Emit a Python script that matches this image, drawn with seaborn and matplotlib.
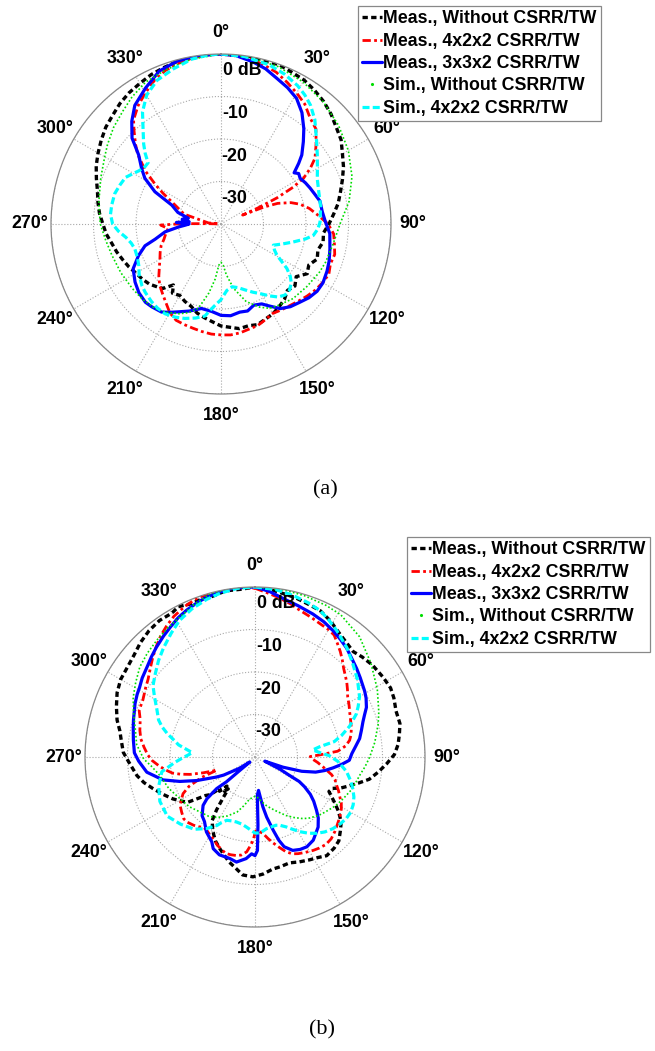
import numpy as np
import matplotlib
matplotlib.use("Agg")
import matplotlib.pyplot as plt
from matplotlib.lines import Line2D
import seaborn as sns

# radiation patterns, (angle in degrees clockwise from 0, level in dB)
# plot (a)
a_meas_wo = [(0, 0.0), (5, -0.2), (10, 0.0), (15, -0.3), (20, -0.1), (25, -0.6), (30, -0.9), (35, -1.6),
             (40, -2.4), (45, -3.4), (50, -4.6), (55, -5.5), (60, -7.0), (65, -8.2), (70, -9.6), (75, -10.9),
             (80, -12.0), (85, -13.4), (90, -14.6), (95, -15.8), (100, -15.6), (105, -16.4), (110, -15.9),
             (115, -17.2), (120, -16.6), (125, -18.4), (130, -17.3), (135, -17.9), (140, -16.8), (145, -16.2),
             (150, -15.6), (155, -15.3), (160, -14.8), (165, -15.2), (170, -15.0), (175, -15.6), (180, -16.0),
             (185, -16.9), (190, -17.6), (195, -18.3), (200, -19.4), (205, -19.9), (210, -20.6), (215, -20.1),
             (218, -21.8), (222, -19.6), (225, -19.0), (230, -18.0), (235, -17.4), (240, -16.9), (245, -16.1),
             (250, -15.4), (255, -14.6), (260, -13.9), (265, -12.9), (270, -12.2), (275, -11.3), (280, -10.6),
             (285, -9.9), (290, -8.8), (295, -7.6), (300, -6.6), (305, -5.6), (310, -4.6), (315, -3.9),
             (320, -3.0), (325, -2.3), (330, -1.8), (335, -1.2), (340, -0.8), (345, -0.4), (350, -0.2),
             (355, 0.0), (360, 0.0)]
a_meas_422 = [(0, 0.0), (5, -0.3), (10, -0.6), (15, -1.2), (20, -2.0), (25, -3.2), (30, -4.4), (35, -5.6),
              (40, -7.4), (45, -8.4), (50, -10.8), (55, -13.0), (58, -15.2), (61, -17.8), (63, -21.0),
              (65, -25.5), (66.5, -30.5), (67.5, -34.5), (68.5, -29.0), (70, -25.8), (73, -22.8), (76, -20.8),
              (80, -18.9), (85, -17.0), (90, -14.8), (95, -13.4), (100, -12.9), (105, -12.3), (110, -12.6),
              (115, -12.0), (120, -12.4), (125, -12.9), (130, -13.6), (135, -14.3), (140, -14.9), (145, -15.3),
              (150, -15.7), (155, -15.2), (160, -14.6), (165, -14.4), (170, -14.0), (175, -13.8), (180, -13.9),
              (185, -14.0), (190, -14.3), (195, -14.6), (200, -14.8), (205, -15.0), (210, -15.9), (215, -17.4),
              (220, -18.6), (225, -19.6), (230, -20.9), (235, -22.3), (240, -23.4), (245, -24.2), (250, -25.0),
              (255, -26.1), (260, -26.8), (265, -27.5), (269, -25.8), (270.5, -31.0), (271.5, -37.0),
              (272.5, -39.5), (275, -37.0), (285, -31.0), (292, -28.5), (298, -24.5), (301, -22.0),
              (305, -18.3), (310, -14.4), (313, -12.5), (317, -10.0), (320, -8.0), (325, -6.0), (330, -4.4),
              (335, -2.8), (340, -1.6), (345, -0.9), (350, -0.4), (355, -0.1), (360, 0.0)]
a_meas_332 = [(0, 0.0), (5, -0.2), (11, -1.1), (16, -2.0), (21, -3.3), (26, -4.3), (31, -5.5), (36, -7.6),
              (41, -10.3), (45, -12.6), (49.5, -15.0), (52, -16.8), (55, -19.0), (57, -18.2), (60, -18.5),
              (64, -17.9), (68, -17.4), (72, -16.9), (77, -16.1), (83, -16.0), (89, -15.4), (95, -14.3),
              (103, -13.7), (109, -13.1), (114, -12.7), (120, -12.3), (125, -12.4), (130, -13.0), (135, -13.9),
              (140, -14.6), (145, -15.7), (150, -17.8), (153, -18.9), (158, -19.4), (163, -18.6), (168, -18.8),
              (174, -18.3), (180, -18.5), (186, -19.3), (193, -19.6), (200, -18.2), (206, -17.0), (210, -16.0),
              (214, -15.0), (220, -14.6), (224, -14.4), (230, -14.8), (236, -15.6), (243, -16.8), (249, -19.2),
              (254, -21.4), (257, -24.1), (262, -26.7), (266, -30.0), (268, -31.5), (270, -32.5), (272, -29.5),
              (274, -32.5), (277, -30.8), (280, -32.2), (285, -29.5), (291, -27.6), (296, -22.7), (301, -19.1),
              (305, -17.2), (310, -14.7), (314, -10.9), (319, -8.0), (324, -5.5), (331, -3.4), (338, -1.2),
              (345, -0.3), (352, 0.0), (360, 0.0)]
a_sim_wo = [(0, 0.0), (10, -0.2), (20, -0.6), (30, -1.4), (40, -2.5), (50, -3.9), (60, -5.4), (70, -7.2),
            (80, -9.4), (90, -12.0), (100, -13.2), (110, -13.8), (116, -14.2), (126, -15.0), (136, -15.6),
            (145, -16.6), (150, -17.1), (155, -18.4), (162, -20.8), (169, -24.6), (174, -28.0), (177, -30.3),
            (180, -31.0), (183, -30.3), (186, -27.0), (190, -23.5), (195, -19.5), (200, -17.8), (205, -16.7),
            (212, -15.5), (218, -14.8), (226, -14.4), (234, -14.2), (244, -13.8), (254, -13.3), (262, -12.6),
            (270, -11.6), (280, -10.8), (291, -9.7), (300, -8.4), (305, -7.4), (312, -6.0), (319, -4.8),
            (325, -3.5), (332, -2.2), (340, -1.5), (344, -1.2), (350, -0.6), (360, 0.0)]
a_sim_422 = [(0, 0.0), (8, -0.2), (17, -0.9), (23, -1.7), (29, -2.8), (33, -3.8), (37, -5.0), (42, -7.0),
             (48, -9.8), (54, -12.0), (60, -13.8), (65, -15.0), (72, -15.8), (80, -16.2), (89, -16.7),
             (93, -17.2), (97, -18.1), (100, -19.8), (104, -22.5), (108, -24.8), (112, -26.7), (116, -26.0),
             (119, -25.0), (122, -23.0), (124, -21.3), (127, -19.6), (130, -18.4), (134, -17.6), (138, -17.5),
             (142, -18.2), (146, -19.6), (150, -21.0), (155, -22.3), (160, -23.5), (165, -24.5), (170, -25.0),
             (175, -24.3), (180, -22.2), (185, -20.5), (190, -18.0), (195, -17.1), (201, -16.2), (206, -15.6),
             (212, -15.1), (217, -15.2), (222, -15.5), (228, -16.0), (232, -16.4), (238, -17.3), (243, -18.3),
             (248, -18.8), (254, -18.9), (258, -18.4), (262, -17.4), (266, -15.8), (270, -14.5), (275, -13.9),
             (280, -13.9), (286, -14.0), (291, -14.5), (296, -15.0), (300, -16.2), (303, -17.0), (307, -17.6),
             (310, -17.6), (313, -15.6), (316, -13.8), (320, -11.5), (325, -7.8), (330, -5.0), (336, -3.0),
             (343, -1.8), (350, -0.6), (356, -0.1), (360, 0.0)]

# plot (b)
b_meas_wo = [(0, 0.0), (5, -0.4), (10, -1.0), (14, -1.3), (19, -1.9), (24, -2.3), (29, -3.4), (34, -4.7),
             (39, -5.6), (43, -6.1), (47, -5.5), (52, -4.9), (58, -4.5), (63, -4.2), (67, -4.5), (72, -5.1),
             (77, -5.0), (81, -5.6), (85, -6.2), (89, -7.2), (93, -9.0), (97, -10.8), (101, -12.6), (104, -14.8),
             (107, -16.8), (110, -18.6), (112, -20.3), (115, -20.8), (117, -19.9), (120, -18.3), (123, -16.6),
             (127, -14.6), (131, -13.4), (135, -12.1), (139, -11.6), (144, -11.3), (148, -12.1), (152, -12.6),
             (157, -13.2), (162, -13.8), (167, -13.5), (171, -13.3), (176, -12.4), (181, -11.8), (186, -12.1),
             (190, -13.5), (194, -14.6), (198, -16.0), (201, -16.9), (205, -18.1), (208, -19.3), (211, -20.6),
             (214, -22.0), (216, -24.6), (218, -27.8), (220, -30.2), (222, -29.2), (224, -30.5), (226, -28.4),
             (228, -28.9), (230, -26.2), (232, -25.3), (234, -23.4), (236, -21.0), (239, -19.8), (243, -18.3),
             (248, -16.6), (253, -14.8), (257, -13.2), (261, -11.9), (265, -11.0), (268, -10.2), (272, -9.0),
             (277, -8.3), (281, -7.6), (285, -6.4), (290, -5.3), (295, -4.2), (300, -3.5), (305, -3.3),
             (310, -2.8), (315, -1.9), (320, -1.2), (325, -0.8), (330, -0.9), (333, -0.3), (337, -0.9),
             (341, -0.8), (345, -0.9), (350, -0.3), (355, -0.4), (360, 0.0)]
b_meas_422 = [(0, -0.3), (4, -1.2), (8, -2.0), (13, -3.0), (17, -3.9), (22, -4.6), (26, -5.1), (30, -5.4),
              (33, -5.8), (36, -7.0), (39, -8.1), (42, -9.3), (45, -10.5), (48, -11.4), (51, -12.2), (54, -13.1),
              (57, -14.0), (61, -14.7), (65, -15.4), (69, -15.9), (73, -16.3), (77, -16.8), (80, -17.4),
              (83, -18.5), (86, -20.5), (88, -24.5), (89.5, -27.0), (92, -26.5), (95, -25.2), (99, -23.5),
              (103, -21.5), (106, -20.4), (109, -19.7), (112, -18.8), (115, -18.0), (118, -17.0), (121, -16.3),
              (125, -15.6), (129, -15.0), (133, -14.3), (137, -13.7), (141, -13.5), (145, -13.8), (148, -14.1),
              (152, -14.6), (156, -15.1), (159, -15.6), (162, -16.6), (165, -18.0), (168, -19.3), (171, -20.6),
              (174, -21.9), (177, -22.5), (179.5, -22.6), (181, -20.8), (182.5, -19.4), (185, -17.6),
              (188, -16.7), (191, -16.4), (194, -16.3), (197, -16.3), (200, -16.9), (203, -17.4), (206, -18.2),
              (210, -18.8), (213, -19.3), (216, -19.5), (219, -18.9), (222, -18.4), (226, -17.9), (229, -17.8),
              (233, -18.4), (237, -19.0), (240, -20.0), (243, -21.0), (246, -23.0), (249, -26.5), (251, -30.5),
              (253, -27.3), (255, -24.2), (257, -22.0), (259, -20.2), (262, -18.6), (265, -17.2), (268, -15.8),
              (271, -14.8), (275, -13.8), (279, -12.8), (283, -12.2), (288, -11.6), (292, -10.6), (297, -10.4),
              (302, -9.6), (306, -8.9), (310, -7.8), (314, -6.5), (318, -5.2), (322, -3.9), (326, -2.8),
              (330, -1.8), (335, -0.9), (340, -0.2), (345, 0.0), (350, 0.0), (355, 0.0), (360, -0.3)]
b_meas_332 = [(0, 0.0), (5, -0.9), (11, -2.3), (16, -3.0), (22, -3.7), (27, -4.3), (32, -5.1), (36, -5.8),
              (40, -6.5), (45, -7.6), (49, -8.3), (53, -9.0), (56, -9.5), (59, -9.9), (62, -10.4), (66, -11.3),
              (69, -12.4), (72, -13.3), (76, -14.2), (80, -15.0), (84, -16.2), (88, -17.2), (92, -17.8),
              (95, -19.6), (98, -21.5), (101, -23.3), (104, -25.3), (107, -28.5), (110, -33.0), (113, -37.5),
              (116, -33.5), (118, -31.0), (119, -28.1), (121, -26.4), (124, -24.3), (127, -22.7), (131, -20.8),
              (134, -19.3), (138, -17.8), (142, -16.9), (145, -16.1), (150, -15.6), (154, -15.8), (158, -16.3),
              (162, -17.8), (164, -19.6), (166, -22.2), (169, -25.6), (171, -28.1), (174, -32.1), (176.5, -31.0),
              (177.5, -24.0), (178.5, -18.0), (180, -16.8), (182, -17.2), (185, -16.0), (190, -14.9),
              (194, -15.4), (200, -15.5), (204.5, -16.3), (207, -17.6), (213, -19.0), (218, -20.7), (222, -21.4),
              (225, -22.6), (227, -23.3), (229, -25.0), (230.5, -28.3), (229, -31.1), (228.5, -35.3),
              (226, -38.3), (234, -35.5), (240, -31.5), (242.5, -29.8), (248, -25.2), (252, -21.4), (256, -17.7),
              (262, -14.3), (268, -12.6), (272, -11.6), (278, -11.1), (283, -10.6), (287, -10.1), (291, -9.6),
              (294, -9.1), (298, -8.6), (301, -8.3), (305, -7.6), (310, -6.9), (314, -6.1), (318, -5.3),
              (323, -4.3), (327, -3.5), (331, -2.6), (335, -1.9), (339, -1.3), (343, -0.7), (348, -0.3),
              (352, 0.0), (356, 0.0), (360, 0.0)]
b_sim_wo = [(0, 0.0), (10, -0.1), (17, -0.3), (25, -0.6), (31, -0.9), (41, -2.5), (51, -4.9), (61, -7.1),
            (70, -9.0), (75, -10.0), (83, -11.6), (90, -13.0), (95, -14.0), (100, -15.0), (108, -15.9),
            (115, -17.0), (121, -17.8), (128, -19.0), (132, -19.6), (138, -20.7), (142, -21.6), (147, -23.0),
            (152, -24.4), (158, -26.2), (163, -27.4), (167, -28.3), (172, -29.5), (176, -30.4), (180, -30.8),
            (183, -30.4), (187, -30.1), (193, -28.2), (198, -26.4), (205, -24.7), (212, -23.2), (218, -22.3),
            (225, -21.7), (233, -20.6), (241, -19.8), (250, -18.4), (259, -17.2), (265, -15.5), (269, -13.8),
            (276, -12.0), (283, -11.1), (290, -9.6), (296, -8.1), (302, -6.9), (308, -5.6), (314, -4.8),
            (320, -4.1), (326, -3.3), (332, -2.6), (338, -1.4), (345, -0.1), (352, 0.0), (360, 0.0)]
b_sim_422 = [(0, 0.0), (7, -0.3), (13, -0.9), (19, -1.6), (24, -2.3), (28, -3.3), (33, -4.6), (40, -6.4),
             (46, -8.1), (53, -9.8), (60, -11.6), (64, -13.0), (67, -14.1), (72, -16.6), (76, -19.0), (79, -21.0),
             (81, -24.6), (83, -26.3), (86, -24.8), (89, -22.5), (93, -20.5), (99, -18.2), (104, -16.8),
             (108, -15.8), (112, -14.9), (116, -14.3), (120, -14.0), (124, -14.1), (128, -14.5), (132.6, -15.1),
             (137, -15.9), (141, -16.9), (145, -18.1), (149, -19.5), (153, -21.0), (156, -22.0), (160, -22.9),
             (163, -23.2), (167, -23.1), (171, -22.9), (176, -22.1), (180, -22.1), (184, -22.9), (187, -23.4),
             (191, -23.9), (196, -24.1), (200, -24.0), (204, -23.7), (207, -22.7), (209, -21.6), (214, -19.7),
             (220, -17.8), (228, -16.4), (236, -15.1), (245, -15.3), (253, -16.3), (261, -17.8), (266, -21.0),
             (269, -22.8), (272, -24.4), (274, -25.2), (276, -24.0), (279, -21.8), (282, -20.4), (285, -18.6),
             (288, -17.0), (291, -15.7), (296, -14.3), (301, -12.4), (305, -10.7), (310, -9.4), (315, -7.9),
             (320, -6.5), (326, -4.8), (331, -3.3), (337, -2.1), (343, -1.2), (348, -0.6), (354, -0.1),
             (360, 0.0)]

series_labels = ["Meas., Without CSRR/TW", "Meas., 4x2x2 CSRR/TW", "Meas., 3x3x2 CSRR/TW",
                 "Sim., Without CSRR/TW", "Sim., 4x2x2 CSRR/TW"]
angle_ticks = [0, 30, 60, 90, 120, 150, 180, 210, 240, 270, 300, 330]
ring_labels = ["0 dB", "-10", "-20", "-30"]

colors = ["black", "#ff0000", "#0000ff", "#00dd00", "#00ffff"]
styles = [(0, (1.6, 1.0)), (0, (3, 1.2, 1, 1.2)), "-", (0, (1, 1.3)), (0, (2.2, 1.0))]
widths = [2.4, 2.0, 2.3, 1.2, 2.3]

sns.set_style("white")
plt.rcParams['font.family'] = ['Liberation Sans', 'DejaVu Sans']
plt.rcParams['font.weight'] = 'bold'
plt.rcParams['text.color'] = 'black'
plt.rcParams['xtick.color'] = 'black'
plt.rcParams['ytick.color'] = 'black'

fig = plt.figure(figsize=(6.55, 10.51), dpi=100)


def draw(rect, data, legend_anchor, caption, caption_xy):
    ax = fig.add_axes(rect, projection='polar')
    for d, c, ls, lw in zip(data, colors, styles, widths):
        arr = np.array(d, dtype=float)
        sns.lineplot(x=np.deg2rad(arr[:, 0]), y=arr[:, 1], ax=ax, sort=False, estimator=None,
                     color=c, linestyle=ls, linewidth=lw)
    ax.set_theta_zero_location('N')
    ax.set_theta_direction(-1)
    ax.set_ylim(-40, 0)
    ax.set_yticks([-30, -20, -10, 0])
    ax.set_yticklabels([])
    ax.set_xticks(np.deg2rad(angle_ticks))
    ax.set_xticklabels([f"{a}°" for a in angle_ticks])
    ax.tick_params(axis='x', pad=5, labelsize=12.8, labelcolor='black')
    ax.set_xlabel("")
    ax.set_ylabel("")
    ax.grid(True, color='#a8a8a8', linestyle=':', linewidth=0.8)
    ax.spines['polar'].set_color('#888888')
    ax.spines['polar'].set_linewidth(0.9)
    for r, t in zip([-3.8, -13.9, -24.1, -34.0], ring_labels):
        ax.text(np.deg2rad(0.6), r, t, ha='left', va='center', fontsize=12.8,
                fontweight='bold', color='black')

    handles = []
    for i, (c, ls, lw) in enumerate(zip(colors, styles, widths)):
        if i == 3:
            handles.append(Line2D([], [], color=c, marker='.', markersize=2.5, linestyle='none'))
        else:
            handles.append(Line2D([], [], color=c, linestyle=ls, linewidth=lw))
    leg = fig.legend(handles, series_labels, loc='upper left', bbox_to_anchor=legend_anchor,
                     bbox_transform=fig.transFigure, borderaxespad=0, fancybox=False,
                     framealpha=1, edgecolor='#888888', handlelength=1.1, handletextpad=0.05,
                     labelspacing=0.3, borderpad=0.25, labelcolor='black',
                     prop={'weight': 'bold', 'size': 12.8})
    leg.get_frame().set_linewidth(0.9)
    fig.text(caption_xy[0], caption_xy[1], caption, ha='center', va='center', color='black',
             family=['Liberation Serif', 'DejaVu Serif'], fontweight='normal', fontsize=16)
    return ax


W, H = 655.0, 1051.0
R = 170.0
draw([(221 - R) / W, 1 - (224 + R) / H, 2 * R / W, 2 * R / H],
     [a_meas_wo, a_meas_422, a_meas_332, a_sim_wo, a_sim_422],
     (358 / W, 1 - 6 / H), "(a)", (325 / W, 1 - 490 / H))
draw([(255 - R) / W, 1 - (757 + R) / H, 2 * R / W, 2 * R / H],
     [b_meas_wo, b_meas_422, b_meas_332, b_sim_wo, b_sim_422],
     (407 / W, 1 - 537 / H), "(b)", (322 / W, 1 - 1030 / H))

fig.savefig("out.png", dpi=100)
